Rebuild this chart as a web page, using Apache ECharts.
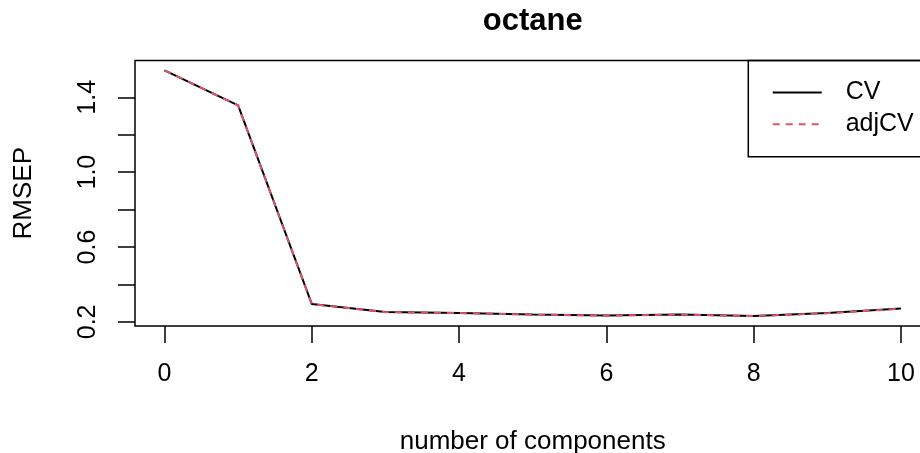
<!DOCTYPE html>
<html>
<head>
<meta charset="utf-8">
<script src="https://cdn.jsdelivr.net/npm/echarts@6/dist/echarts.min.js"></script>
<style>html,body{margin:0;padding:0;background:#fff;}#c{width:920px;height:453px;}</style>
</head>
<body>
<div id="c"></div>
<script>
// ---- data ----
var components = [0, 1, 2, 3, 4, 5, 6, 7, 8, 9, 10];
var cvValues    = [1.544, 1.357, 0.296, 0.253, 0.248, 0.240, 0.234, 0.240, 0.232, 0.247, 0.271];
var adjcvValues = [1.544, 1.356, 0.295, 0.252, 0.247, 0.239, 0.233, 0.239, 0.231, 0.246, 0.270];
var xTicks = [0, 2, 4, 6, 8, 10];
var yTicks = [0.2, 0.4, 0.6, 0.8, 1.0, 1.2, 1.4];
var yLabels = [0.2, 0.6, 1.0, 1.4];
var seriesNames = ['CV', 'adjCV'];

function pairs(xs, ys) { return xs.map(function (x, i) { return [x, ys[i]]; }); }

// R-style 4% axis extension
var allY = cvValues.concat(adjcvValues);
var yMinD = Math.min.apply(null, allY), yMaxD = Math.max.apply(null, allY);
var yR = yMaxD - yMinD;
var xMinD = components[0], xMaxD = components[components.length - 1];
var xR = xMaxD - xMinD;

var FONT = 'Liberation Sans, Arial, sans-serif';
var chart = echarts.init(document.getElementById('c'));
chart.setOption({
  animation: false,
  backgroundColor: '#fff',
  title: {
    text: 'octane',
    left: 532.7, top: 6, padding: 0,
    textAlign: 'center',
    textStyle: { fontFamily: FONT, fontSize: 31, fontWeight: 'bold', color: '#000' }
  },
  grid: {
    left: 135, top: 60.5, width: 795.4, height: 265.4,
    containLabel: false, outerBoundsMode: 'none',
    show: true, borderColor: '#000', borderWidth: 1.5, backgroundColor: 'transparent'
  },
  legend: {
    data: seriesNames,
    orient: 'vertical',
    left: 771.7, top: 80, padding: 0,
    itemWidth: 49, itemHeight: 14, itemGap: 6.7,
    itemStyle: { opacity: 0 },
    textStyle: { fontFamily: FONT, fontSize: 25, color: '#000', padding: [0, 0, 0, 19] }
  },
  xAxis: {
    type: 'value',
    min: xMinD - 0.04 * xR, max: xMaxD + 0.04 * xR,
    name: 'number of components', nameLocation: 'middle', nameGap: 103,
    nameTextStyle: { fontFamily: FONT, fontSize: 26, color: '#000' },
    axisLine: { show: false, onZero: false },
    axisTick: { show: true, inside: false, length: 17, customValues: xTicks,
      lineStyle: { color: '#000', width: 1.5 } },
    axisLabel: { show: true, margin: 36, customValues: xTicks,
      fontFamily: FONT, fontSize: 25, color: '#000' },
    splitLine: { show: false }
  },
  yAxis: {
    type: 'value',
    min: yMinD - 0.04 * yR, max: yMaxD + 0.04 * yR,
    name: 'RMSEP', nameLocation: 'middle', nameGap: 98,
    nameTextStyle: { fontFamily: FONT, fontSize: 26, color: '#000' },
    axisLine: { show: false, onZero: false },
    axisTick: { show: true, inside: false, length: 17, customValues: yTicks,
      lineStyle: { color: '#000', width: 1.5 } },
    axisLabel: { show: true, margin: 34.5, rotate: 90, customValues: yLabels,
      fontFamily: FONT, fontSize: 25, color: '#000',
      formatter: function (v) { return v.toFixed(1); } },
    splitLine: { show: false }
  },
  graphic: [{
    type: 'rect', silent: true, z: 10,
    shape: { x: 748.3, y: 60.5, width: 200, height: 96.2 },
    style: { fill: 'none', stroke: '#000', lineWidth: 1.5 }
  }],
  series: [{
    name: seriesNames[0], type: 'line', data: pairs(components, cvValues),
    symbol: 'none', showSymbol: false, z: 2,
    lineStyle: { color: '#000', width: 2, type: 'solid' },
    itemStyle: { color: '#000' }
  }, {
    name: seriesNames[1], type: 'line', data: pairs(components, adjcvValues),
    symbol: 'none', showSymbol: false, z: 3,
    lineStyle: { color: '#DF536B', width: 2, type: [7, 6] },
    itemStyle: { color: '#DF536B' }
  }]
});
</script>
</body>
</html>
